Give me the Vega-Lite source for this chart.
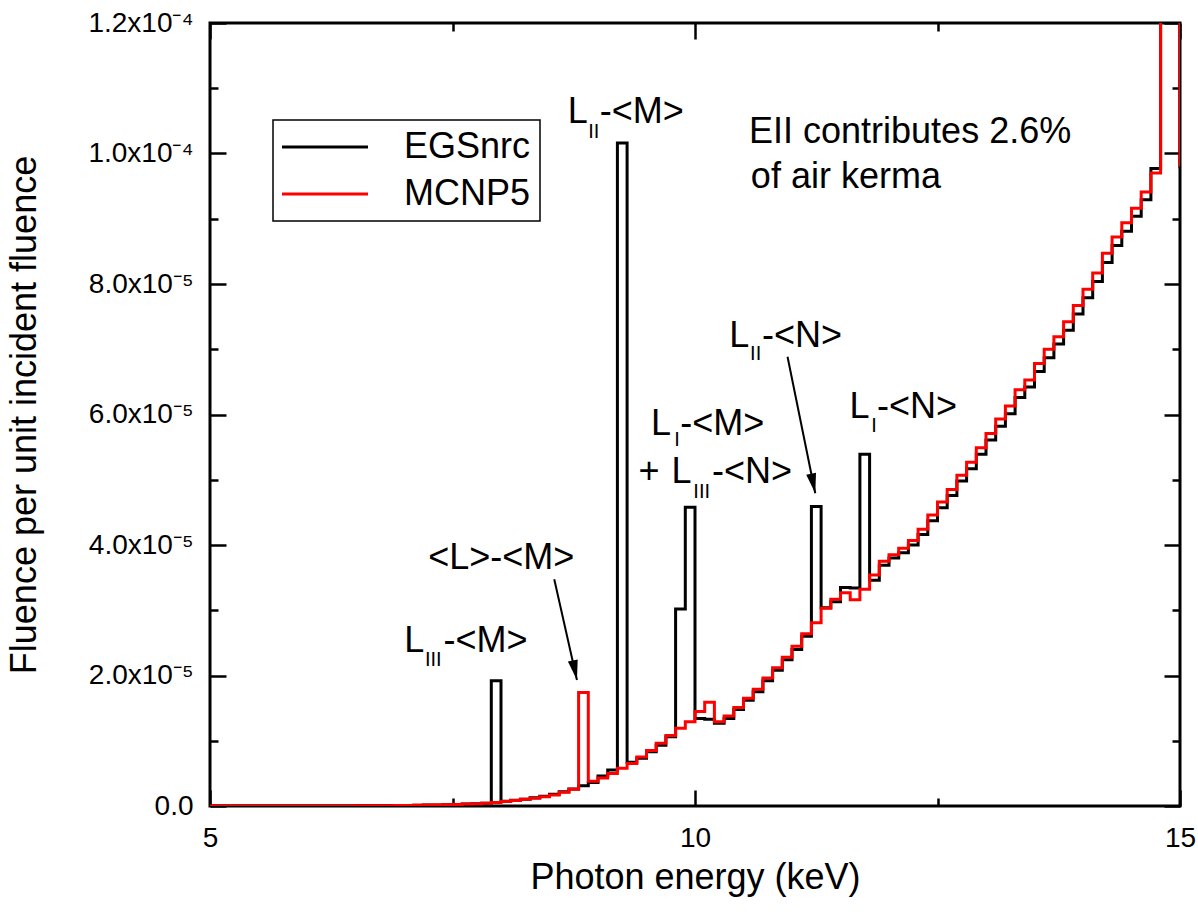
{
  "$schema": "https://vega.github.io/schema/vega-lite/v6.json",
  "width": 970,
  "height": 783,
  "autosize": "none",
  "padding": {"left": 210, "top": 23, "right": 18, "bottom": 111},
  "background": "white",
  "config": {
    "view": {"stroke": "black", "strokeWidth": 3},
    "font": "Liberation Sans",
    "legend": {"strokeColor": "black", "strokeWidth": 1.5, "fillColor": "white"}
  },
  "datasets": {
    "spectrum": [
      {"E": 5.0, "EGSnrc": 0, "MCNP5": 0},
      {"E": 5.1, "EGSnrc": 0, "MCNP5": 0},
      {"E": 5.2, "EGSnrc": 0, "MCNP5": 0},
      {"E": 5.3, "EGSnrc": 0, "MCNP5": 0},
      {"E": 5.4, "EGSnrc": 0, "MCNP5": 0},
      {"E": 5.5, "EGSnrc": 0, "MCNP5": 0},
      {"E": 5.6, "EGSnrc": 0, "MCNP5": 0},
      {"E": 5.7, "EGSnrc": 0, "MCNP5": 0},
      {"E": 5.8, "EGSnrc": 0, "MCNP5": 0},
      {"E": 5.9, "EGSnrc": 0, "MCNP5": 0},
      {"E": 6.0, "EGSnrc": 0, "MCNP5": 0},
      {"E": 6.1, "EGSnrc": 0, "MCNP5": 0},
      {"E": 6.2, "EGSnrc": 0, "MCNP5": 0},
      {"E": 6.3, "EGSnrc": 0, "MCNP5": 0},
      {"E": 6.4, "EGSnrc": 0, "MCNP5": 0},
      {"E": 6.5, "EGSnrc": 0.02, "MCNP5": 0.02},
      {"E": 6.6, "EGSnrc": 0.03, "MCNP5": 0.03},
      {"E": 6.7, "EGSnrc": 0.04, "MCNP5": 0.04},
      {"E": 6.8, "EGSnrc": 0.05, "MCNP5": 0.05},
      {"E": 6.9, "EGSnrc": 0.07, "MCNP5": 0.07},
      {"E": 7.0, "EGSnrc": 0.09, "MCNP5": 0.09},
      {"E": 7.1, "EGSnrc": 0.11, "MCNP5": 0.11},
      {"E": 7.2, "EGSnrc": 0.14, "MCNP5": 0.14},
      {"E": 7.3, "EGSnrc": 0.17, "MCNP5": 0.17},
      {"E": 7.4, "EGSnrc": 0.2, "MCNP5": 0.2},
      {"E": 7.5, "EGSnrc": 0.24, "MCNP5": 0.24},
      {"E": 7.6, "EGSnrc": 0.3, "MCNP5": 0.3},
      {"E": 7.7, "EGSnrc": 0.36, "MCNP5": 0.36},
      {"E": 7.8, "EGSnrc": 0.44, "MCNP5": 0.44},
      {"E": 7.9, "EGSnrc": 19.2, "MCNP5": 0.55},
      {"E": 8.0, "EGSnrc": 0.72, "MCNP5": 0.7},
      {"E": 8.1, "EGSnrc": 0.88, "MCNP5": 0.85},
      {"E": 8.2, "EGSnrc": 1.05, "MCNP5": 1.05},
      {"E": 8.3, "EGSnrc": 1.25, "MCNP5": 1.2},
      {"E": 8.4, "EGSnrc": 1.5, "MCNP5": 1.43},
      {"E": 8.5, "EGSnrc": 1.8, "MCNP5": 1.7},
      {"E": 8.6, "EGSnrc": 2.2, "MCNP5": 2.1},
      {"E": 8.7, "EGSnrc": 2.6, "MCNP5": 2.55},
      {"E": 8.8, "EGSnrc": 3.1, "MCNP5": 17.4},
      {"E": 8.9, "EGSnrc": 3.6, "MCNP5": 3.8},
      {"E": 9.0, "EGSnrc": 4.6, "MCNP5": 4.3},
      {"E": 9.1, "EGSnrc": 5.5, "MCNP5": 5.0},
      {"E": 9.2, "EGSnrc": 101.6, "MCNP5": 5.8},
      {"E": 9.3, "EGSnrc": 6.7, "MCNP5": 6.5},
      {"E": 9.4, "EGSnrc": 7.3, "MCNP5": 7.5},
      {"E": 9.5, "EGSnrc": 8.3, "MCNP5": 8.5},
      {"E": 9.6, "EGSnrc": 9.3, "MCNP5": 9.6},
      {"E": 9.7, "EGSnrc": 10.6, "MCNP5": 10.8},
      {"E": 9.8, "EGSnrc": 30.2, "MCNP5": 11.9},
      {"E": 9.9, "EGSnrc": 45.8, "MCNP5": 12.9},
      {"E": 10.0, "EGSnrc": 13.4, "MCNP5": 14.5},
      {"E": 10.1, "EGSnrc": 13.3, "MCNP5": 15.9},
      {"E": 10.2, "EGSnrc": 12.7, "MCNP5": 12.9},
      {"E": 10.3, "EGSnrc": 13.4, "MCNP5": 13.8},
      {"E": 10.4, "EGSnrc": 14.8, "MCNP5": 15.1},
      {"E": 10.5, "EGSnrc": 16.2, "MCNP5": 16.5},
      {"E": 10.6, "EGSnrc": 17.5, "MCNP5": 17.9},
      {"E": 10.7, "EGSnrc": 19.2, "MCNP5": 19.6},
      {"E": 10.8, "EGSnrc": 20.8, "MCNP5": 21.2},
      {"E": 10.9, "EGSnrc": 22.4, "MCNP5": 22.8},
      {"E": 11.0, "EGSnrc": 24.0, "MCNP5": 24.5},
      {"E": 11.1, "EGSnrc": 26.0, "MCNP5": 26.4},
      {"E": 11.2, "EGSnrc": 45.9, "MCNP5": 28.1},
      {"E": 11.3, "EGSnrc": 30.4, "MCNP5": 30.3},
      {"E": 11.4, "EGSnrc": 31.3, "MCNP5": 31.7},
      {"E": 11.5, "EGSnrc": 33.5, "MCNP5": 32.7},
      {"E": 11.6, "EGSnrc": 33.4, "MCNP5": 31.6},
      {"E": 11.7, "EGSnrc": 53.9, "MCNP5": 33.2},
      {"E": 11.8, "EGSnrc": 34.6, "MCNP5": 35.4},
      {"E": 11.9, "EGSnrc": 36.9, "MCNP5": 37.5},
      {"E": 12.0, "EGSnrc": 38.0, "MCNP5": 38.5},
      {"E": 12.1, "EGSnrc": 38.8, "MCNP5": 39.5},
      {"E": 12.2, "EGSnrc": 40.0, "MCNP5": 40.7},
      {"E": 12.3, "EGSnrc": 41.6, "MCNP5": 42.4},
      {"E": 12.4, "EGSnrc": 43.7, "MCNP5": 44.6},
      {"E": 12.5, "EGSnrc": 45.7, "MCNP5": 46.6},
      {"E": 12.6, "EGSnrc": 47.6, "MCNP5": 48.5},
      {"E": 12.7, "EGSnrc": 49.8, "MCNP5": 50.7},
      {"E": 12.8, "EGSnrc": 51.7, "MCNP5": 52.7},
      {"E": 12.9, "EGSnrc": 53.9, "MCNP5": 54.9},
      {"E": 13.0, "EGSnrc": 56.1, "MCNP5": 57.1},
      {"E": 13.1, "EGSnrc": 58.2, "MCNP5": 59.3},
      {"E": 13.2, "EGSnrc": 60.1, "MCNP5": 61.3},
      {"E": 13.3, "EGSnrc": 62.6, "MCNP5": 63.8},
      {"E": 13.4, "EGSnrc": 64.2, "MCNP5": 65.3},
      {"E": 13.5, "EGSnrc": 66.6, "MCNP5": 67.8},
      {"E": 13.6, "EGSnrc": 68.7, "MCNP5": 70.0},
      {"E": 13.7, "EGSnrc": 70.8, "MCNP5": 71.9},
      {"E": 13.8, "EGSnrc": 72.9, "MCNP5": 74.2},
      {"E": 13.9, "EGSnrc": 75.4, "MCNP5": 76.7},
      {"E": 14.0, "EGSnrc": 77.9, "MCNP5": 79.2},
      {"E": 14.1, "EGSnrc": 80.4, "MCNP5": 81.7},
      {"E": 14.2, "EGSnrc": 83.3, "MCNP5": 84.7},
      {"E": 14.3, "EGSnrc": 85.9, "MCNP5": 87.2},
      {"E": 14.4, "EGSnrc": 88.1, "MCNP5": 89.4},
      {"E": 14.5, "EGSnrc": 90.4, "MCNP5": 91.6},
      {"E": 14.6, "EGSnrc": 92.9, "MCNP5": 94.1},
      {"E": 14.7, "EGSnrc": 97.7, "MCNP5": 97.0},
      {"E": 14.8, "EGSnrc": 400, "MCNP5": 400},
      {"E": 14.9, "EGSnrc": 400, "MCNP5": 400},
      {"E": 15.0, "EGSnrc": 97.7, "MCNP5": 98.0}
    ],
    "labels": [
      {"x": 8.687, "y": 104.67, "t": "L"},
      {"x": 9.017, "y": 104.67, "t": "-<M>"},
      {"x": 7.003, "y": 23.65, "t": "L"},
      {"x": 7.408, "y": 23.65, "t": "-<M>"},
      {"x": 7.249, "y": 36.32, "t": "<L>-<M>"},
      {"x": 9.546, "y": 56.86, "t": "L"},
      {"x": 9.849, "y": 56.86, "t": "-<M>"},
      {"x": 9.417, "y": 49.46, "t": "+"},
      {"x": 9.759, "y": 49.46, "t": "L"},
      {"x": 10.175, "y": 49.46, "t": "-<N>"},
      {"x": 10.354, "y": 70.39, "t": "L"},
      {"x": 10.690, "y": 70.39, "t": "-<N>"},
      {"x": 11.592, "y": 59.42, "t": "L"},
      {"x": 11.876, "y": 59.42, "t": "-<N>"},
      {"x": 10.557, "y": 101.6, "t": "EII contributes 2.6%"},
      {"x": 10.576, "y": 94.71, "t": "of air kerma"}
    ],
    "subscripts": [
      {"x": 8.900, "y": 102.38, "t": "II"},
      {"x": 7.216, "y": 21.50, "t": "III"},
      {"x": 9.787, "y": 55.17, "t": "I"},
      {"x": 9.983, "y": 47.16, "t": "III"},
      {"x": 10.568, "y": 68.35, "t": "II"},
      {"x": 11.816, "y": 57.36, "t": "I"}
    ],
    "arrows": [
      {"x1": 8.549, "y1": 34.74, "x2": 8.783, "y2": 19.31},
      {"x1": 10.954, "y1": 68.86, "x2": 11.240, "y2": 47.92}
    ]
  },
  "resolve": {"axis": {"x": "independent", "y": "independent"}},
  "layer": [
    {
      "data": {"name": "spectrum"},
      "mark": {"type": "line", "interpolate": "step-after", "strokeWidth": 3, "clip": true},
      "encoding": {
        "x": {
          "field": "E", "type": "quantitative",
          "scale": {"domain": [5, 15], "nice": false, "zero": false},
          "axis": {
            "orient": "bottom", "values": [5, 10, 15], "domain": false, "grid": false,
            "tickColor": "black", "tickWidth": 2.5, "tickSize": -16,
            "format": "d",
            "labelFontSize": 28, "labelFont": "Liberation Sans", "labelColor": "black",
            "labelFlush": false, "labelOverlap": false, "labelPadding": 34, "labelBaseline": "top",
            "title": "Photon energy (keV)", "titleFontSize": 36, "titleFont": "Liberation Sans",
            "titleFontWeight": "normal", "titleColor": "black",
            "titleX": 485, "titleY": 82, "titleBaseline": "alphabetic", "titleAlign": "center"
          }
        },
        "y": {
          "field": "EGSnrc", "type": "quantitative",
          "scale": {"domain": [0, 120], "nice": false},
          "axis": {
            "orient": "left", "values": [0, 20, 40, 60, 80, 100, 120],
            "domain": false, "grid": false, "tickColor": "black", "tickWidth": 2.5, "tickSize": -16,
            "labelExpr": "datum.value === 0 ? '0.0' : (datum.value >= 95 ? format(datum.value / 100, '.1f') + 'x10⁻⁴' : format(datum.value / 10, '.1f') + 'x10⁻⁵')",
            "labelFontSize": 28, "labelFont": "Liberation Sans", "labelColor": "black",
            "labelFlush": false, "labelOverlap": false, "labelPadding": 33, "labelBaseline": "middle",
            "title": "Fluence per unit incident fluence", "titleFontSize": 36, "titleFont": "Liberation Sans",
            "titleFontWeight": "normal", "titleColor": "black",
            "titleX": -175, "titleY": 391.5, "titleAngle": -90, "titleBaseline": "alphabetic", "titleAlign": "center"
          }
        },
        "color": {
          "datum": "EGSnrc", "type": "nominal",
          "scale": {"domain": ["EGSnrc", "MCNP5"], "range": ["black", "red"]},
          "legend": {
            "title": null, "orient": "none", "legendX": 63, "legendY": 97,
            "padding": 9,
            "symbolType": "M-3,0H3", "symbolSize": 822, "symbolStrokeWidth": 3, "symbolOffset": 25,
            "labelOffset": 61, "labelAlign": "left", "labelFontSize": 36, "labelFont": "Liberation Sans", "labelColor": "black",
            "rowPadding": 11
          }
        }
      }
    },
    {
      "data": {"name": "spectrum"},
      "mark": {"type": "line", "interpolate": "step-after", "strokeWidth": 3, "clip": true},
      "encoding": {
        "x": {
          "field": "E", "type": "quantitative",
          "scale": {"domain": [5, 15], "nice": false, "zero": false},
          "axis": {
            "orient": "top", "values": [5, 10, 15], "domain": false, "grid": false,
            "labels": false, "title": null, "tickColor": "black", "tickWidth": 2.5, "tickSize": -16
          }
        },
        "y": {
          "field": "MCNP5", "type": "quantitative",
          "scale": {"domain": [0, 120], "nice": false},
          "axis": {
            "orient": "right", "values": [0, 20, 40, 60, 80, 100, 120],
            "domain": false, "grid": false, "labels": false, "title": null,
            "tickColor": "black", "tickWidth": 2.5, "tickSize": -16
          }
        },
        "color": {"datum": "MCNP5", "type": "nominal"}
      }
    },
    {
      "data": {"name": "arrows"},
      "mark": {"type": "rule", "strokeWidth": 2, "color": "black"},
      "encoding": {
        "x": {
          "field": "x1", "type": "quantitative",
          "axis": {"orient": "bottom", "values": [7.5, 12.5], "domain": false, "grid": false, "labels": false, "title": null, "tickColor": "black", "tickWidth": 2.5, "tickSize": -8}
        },
        "y": {
          "field": "y1", "type": "quantitative",
          "axis": {"orient": "left", "values": [10, 30, 50, 70, 90, 110], "domain": false, "grid": false, "labels": false, "title": null, "tickColor": "black", "tickWidth": 2.5, "tickSize": -8}
        },
        "x2": {"field": "x2"},
        "y2": {"field": "y2"}
      }
    },
    {
      "data": {"name": "arrows"},
      "mark": {"type": "point", "shape": "M0,0L-0.5,-2L0.5,-2Z", "size": 400, "filled": true, "color": "black", "opacity": 1, "angle": 348},
      "encoding": {
        "x": {
          "field": "x2", "type": "quantitative",
          "axis": {"orient": "top", "values": [7.5, 12.5], "domain": false, "grid": false, "labels": false, "title": null, "tickColor": "black", "tickWidth": 2.5, "tickSize": -8}
        },
        "y": {
          "field": "y2", "type": "quantitative",
          "axis": {"orient": "right", "values": [10, 30, 50, 70, 90, 110], "domain": false, "grid": false, "labels": false, "title": null, "tickColor": "black", "tickWidth": 2.5, "tickSize": -8}
        }
      }
    },
    {
      "data": {"name": "labels"},
      "mark": {"type": "text", "align": "left", "baseline": "alphabetic", "fontSize": 36, "font": "Liberation Sans", "color": "black"},
      "encoding": {
        "x": {"field": "x", "type": "quantitative", "axis": null},
        "y": {"field": "y", "type": "quantitative", "axis": null},
        "text": {"field": "t"}
      }
    },
    {
      "data": {"name": "subscripts"},
      "mark": {"type": "text", "align": "left", "baseline": "alphabetic", "fontSize": 20, "font": "Liberation Sans", "color": "black"},
      "encoding": {
        "x": {"field": "x", "type": "quantitative", "axis": null},
        "y": {"field": "y", "type": "quantitative", "axis": null},
        "text": {"field": "t"}
      }
    }
  ]
}
